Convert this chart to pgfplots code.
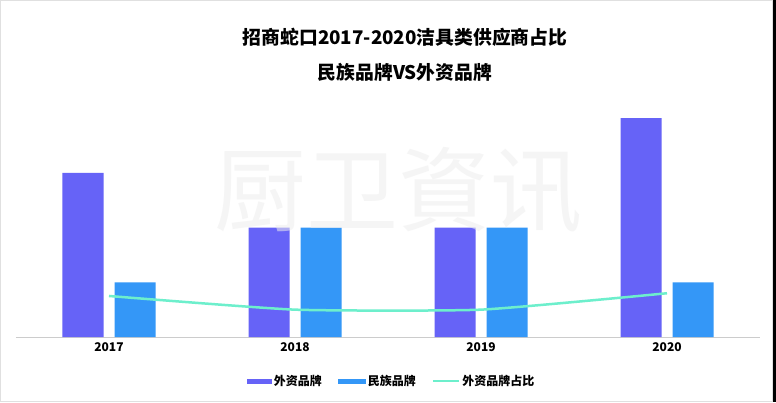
\documentclass[border=0pt]{standalone}
\usepackage{pgfplots}
\pgfplotsset{compat=1.18}
\usepackage{fontspec}
\setmainfont{Noto Sans CJK SC}
\definecolor{cpurple}{HTML}{6663F7}
\definecolor{cblue}{HTML}{3497F7}
\definecolor{cmint}{HTML}{6DEFCC}
\begin{document}
\begin{tikzpicture}[x=1pt,y=1pt]
  % page and frame
  \fill[white] (0,0) rectangle (776,402);
  \draw[black!12] (0.5,0.5) rectangle (772.5,401.5);
  \fill[black] (773,0) rectangle (776,402);
  \begin{axis}[
      at={(16pt,65pt)}, anchor=south west,
      scale only axis, width=744pt, height=273.5pt,
      xmin=-0.5, xmax=3.5, ymin=0, ymax=5,
      axis x line*=bottom, axis y line=none,
      x axis line style={black!20, -},
      xtick={0,1,2,3}, xticklabels={2017,2018,2019,2020},
      major tick length=0pt,
      xticklabel style={font=\bfseries\fontsize{12}{14}\selectfont, yshift=-2pt},
      legend style={at={(0.505,-0.161)}, anchor=center, draw=none, fill=none,
        legend columns=-1, font=\bfseries\fontsize{12}{14}\selectfont,
        /tikz/every even column/.append style={column sep=14pt}},
      legend cell align=left,
      clip=false,
    ]
    \addplot[ybar, bar width=41pt, bar shift=-26pt, fill=cpurple, draw=none,
      legend image code/.code={\fill[cpurple] (0pt,-2.5pt) rectangle (25pt,2.5pt);}]
      coordinates {(0,3) (1,2) (2,2) (3,4)};
    \addplot[ybar, bar width=41pt, bar shift=26pt, fill=cblue, draw=none,
      legend image code/.code={\fill[cblue] (0pt,-2.5pt) rectangle (28pt,2.5pt);}]
      coordinates {(0,1) (1,2) (2,2) (3,1)};
    \addplot[cmint, line width=2.5pt, smooth, tension=0.3,
      legend image code/.code={\draw[cmint, line width=2.5pt] (0pt,0pt) -- (26pt,0pt);}]
      coordinates {(0,0.75) (1,0.5) (2,0.5) (3,0.8)};
    \legend{外资品牌,民族品牌,外资品牌占比}
  \end{axis}
  % watermark
  \node[font=\fontsize{92}{92}\selectfont, text=black!7, text opacity=0.55] at (398,212) {厨卫資讯};
  % title
  \node[font=\bfseries\fontsize{18.8}{21}\selectfont] at (405,365) {招商蛇口2017-2020洁具类供应商占比};
  \node[font=\bfseries\fontsize{18.8}{21}\selectfont] at (405,330) {民族品牌VS外资品牌};
\end{tikzpicture}
\end{document}
